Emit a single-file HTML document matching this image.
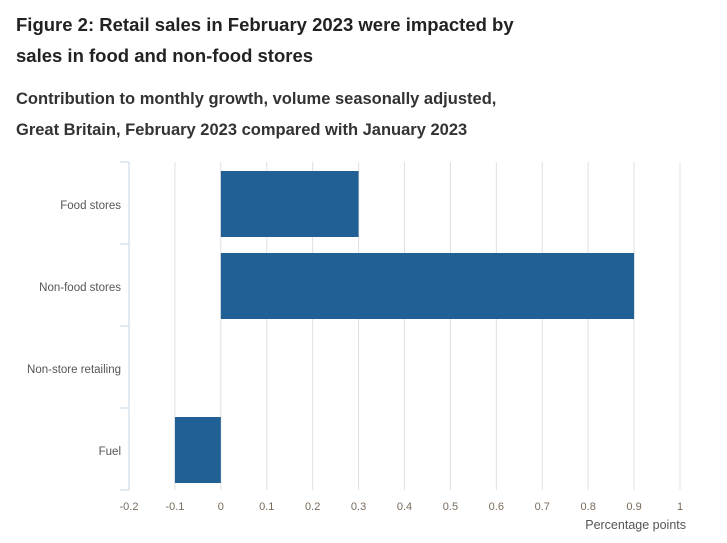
<!DOCTYPE html>
<html><head><meta charset="utf-8"><style>
body{margin:0;background:#fff;width:727px;height:543px;overflow:hidden;font-family:"Liberation Sans",sans-serif;}
.t{position:absolute;left:16px;color:#222;font-weight:bold;}
</style></head><body>
<div class="t" style="top:9px;font-size:18.5px;line-height:31px;">Figure 2: Retail sales in February 2023 were impacted by<br>sales in food and non-food stores</div>
<div class="t" style="top:84px;font-size:16.5px;line-height:31px;color:#333;">Contribution to monthly growth, volume seasonally adjusted,<br>Great Britain, February 2023 compared with January 2023</div>
<svg id="c" width="727" height="543" style="position:absolute;left:0;top:0"></svg>
<script>
const categories=["Food stores","Non-food stores","Non-store retailing","Fuel"];
const values=[0.3,0.9,0,-0.1];
const ticks=[-0.2,-0.1,0,0.1,0.2,0.3,0.4,0.5,0.6,0.7,0.8,0.9,1];
(function(){
const NS="http://www.w3.org/2000/svg",svg=document.getElementById('c');
const px0=129,px1=680,pTop=162,pBot=490,vmin=-0.2,vmax=1;
const X=v=>px0+(v-vmin)/(vmax-vmin)*(px1-px0);
const band=(pBot-pTop)/categories.length;
function mk(t,a){const e=document.createElementNS(NS,t);for(const k in a)e.setAttribute(k,a[k]);svg.appendChild(e);return e;}
ticks.forEach(t=>{
 if(t>vmin){const g=mk('line',{x1:X(t),x2:X(t),y1:pTop,y2:pBot,stroke:'#e0e0e0','stroke-width':1});
 
 }
 const l=mk('text',{x:X(t),y:510,'text-anchor':'middle','font-size':11,fill:'#7a6a5a'});l.textContent=t;
 
 
});
const ax=mk('line',{x1:px0,x2:px0,y1:pTop,y2:pBot,stroke:'#c8d4e6','stroke-width':1});


for(let i=0;i<=categories.length;i++){const y=pTop+i*band;const tk=mk('line',{x1:120,x2:px0,y1:y,y2:y,stroke:'#c8d4e6'});
 
 }
categories.forEach((c,i)=>{
 const yc=pTop+band*(i+0.5);
 const l=mk('text',{x:121,y:yc+6,'text-anchor':'end','font-size':11.5,fill:'#555'});l.textContent=c;
 
 
 const v=values[i];
 const r=mk('rect',{x:Math.min(X(0),X(v)),y:yc-32,width:Math.abs(X(v)-X(0)),height:66,fill:'#206095'});
 
 
});
const at=mk('text',{x:686,y:529,'text-anchor':'end','font-size':12.5,fill:'#555'});at.textContent='Percentage points';


})();
</script>
</body></html>
